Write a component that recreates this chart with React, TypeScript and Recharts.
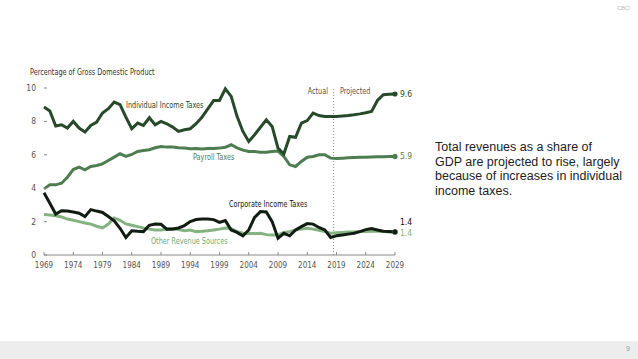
import React from 'react'
import { LineChart, Line, XAxis, YAxis, ReferenceLine, LabelList } from 'recharts'

const years = Array.from({ length: 61 }, (_, i) => 1969 + i)

const individual = [
  8.86, 8.62, 7.72, 7.8, 7.6, 8.0, 7.6, 7.36, 7.76, 7.96,
  8.5, 8.76, 9.16, 9.0, 8.26, 7.56, 7.9, 7.76, 8.22, 7.8,
  8.0, 7.86, 7.66, 7.4, 7.5, 7.56, 7.86, 8.25, 8.75, 9.25,
  9.25, 9.95, 9.5, 8.3, 7.4, 6.8, 7.2, 7.65, 8.1, 7.7,
  6.4, 6.05, 7.1, 7.05, 7.9, 8.05, 8.5, 8.35, 8.3, 8.3,
  8.3, 8.33, 8.36, 8.4, 8.45, 8.52, 8.6, 9.25, 9.6, 9.62,
  9.64,
]

const payroll = [
  3.96, 4.2, 4.2, 4.3, 4.66, 5.12, 5.26, 5.1, 5.3, 5.36,
  5.46, 5.66, 5.86, 6.06, 5.9, 6.02, 6.2, 6.26, 6.3, 6.42,
  6.5, 6.46, 6.46, 6.42, 6.4, 6.36, 6.38, 6.35, 6.38, 6.38,
  6.4, 6.45, 6.6, 6.42, 6.28, 6.2, 6.2, 6.15, 6.15, 6.2,
  6.22, 5.9, 5.4, 5.3, 5.6, 5.85, 5.9, 6.0, 6.0, 5.8,
  5.78, 5.8, 5.82, 5.84, 5.85, 5.86, 5.87, 5.88, 5.89, 5.9,
  5.9,
]

const corporate = [
  3.73, 3.1, 2.45, 2.65, 2.63, 2.58, 2.5, 2.3, 2.72, 2.63,
  2.55, 2.3, 2.05, 1.6, 1.05, 1.45, 1.42, 1.4, 1.78, 1.86,
  1.84, 1.55, 1.56, 1.62, 1.76, 2.0, 2.12, 2.16, 2.16, 2.12,
  1.95, 2.06, 1.5, 1.35, 1.15, 1.5, 2.25, 2.6, 2.58, 2.0,
  1.0, 1.3, 1.15, 1.5, 1.7, 1.88, 1.85, 1.65, 1.5, 1.05,
  1.15, 1.2, 1.25, 1.3, 1.4, 1.52, 1.58, 1.5, 1.42, 1.4,
  1.38,
]

const other = [
  2.42, 2.4, 2.35, 2.28, 2.15, 2.08, 2.0, 1.92, 1.85, 1.72,
  1.62, 1.85, 2.22, 2.08, 1.86, 1.78, 1.7, 1.62, 1.55, 1.5,
  1.5, 1.54, 1.55, 1.52, 1.45, 1.5, 1.4, 1.42, 1.45, 1.5,
  1.55, 1.62, 1.58, 1.4, 1.3, 1.28, 1.28, 1.3, 1.22, 1.2,
  1.2, 1.35, 1.4, 1.5, 1.55, 1.6, 1.55, 1.48, 1.4, 1.3,
  1.33, 1.35, 1.37, 1.38, 1.4, 1.4, 1.42, 1.42, 1.4, 1.38,
  1.38,
]

const xTicks = [1969, 1974, 1979, 1984, 1989, 1994, 1999, 2004, 2009, 2014, 2019, 2024, 2029]
const yTicks = [0, 2, 4, 6, 8, 10]

const data = years.map((year, i) => ({
  year,
  individual: individual[i],
  payroll: payroll[i],
  corporate: corporate[i],
  other: other[i],
}))

const last = data.length - 1
const narrow = '"Liberation Sans Narrow", "DejaVu Sans Condensed", sans-serif'

const C_IND = '#274a2a'
const C_PAY = '#4f7d52'
const C_CORP = '#111c12'
const C_OTH = '#84b281'

const endDot = (color: string) => (p: any) =>
  p.index === last
    ? <circle key={p.index} cx={p.cx} cy={p.cy} r={2.6} fill={color} />
    : <g key={p.index} />

const endLabel = (color: string, dy: number) => (p: any) =>
  p.index === last ? (
    <text x={p.x + 5} y={p.y + dy} fill={color} fontSize={8.5} fontFamily={narrow} dominantBaseline="central">
      {Number(p.value).toFixed(1)}
    </text>
  ) : null

const XTick = (p: any) => (
  <g>
    <line x1={p.x} x2={p.x} y1={p.y} y2={p.y - 3} stroke="#8a8a8a" />
    <text x={p.x} y={p.y + 10} textAnchor="middle" dominantBaseline="central" fill="#555" fontSize={8} fontFamily={narrow}>
      {p.payload.value}
    </text>
  </g>
)

const YTick = (p: any) => (
  <g>
    <line x1={p.x} x2={p.x + 3} y1={p.y} y2={p.y} stroke="#8a8a8a" />
    <text x={p.x - 8} y={p.y} textAnchor="end" dominantBaseline="central" fill="#555" fontSize={8.5} fontFamily={narrow}>
      {p.payload.value}
    </text>
  </g>
)

// the installed condensed face is still wider than the original, so squeeze it a bit
const note = (text: string, left: number, top: number, color: string, origin = 'left') => (
  <div style={{
    position: 'absolute', left, top, fontFamily: narrow, fontSize: 8.5, color, whiteSpace: 'nowrap',
    lineHeight: '10px', transform: 'scaleX(0.85)', transformOrigin: origin,
  }}>
    {text}
  </div>
)

export default function App() {
  return (
    <div style={{ position: 'fixed', left: 0, top: 0, width: 638, height: 359, background: '#fff', overflow: 'hidden' }}>
      <div style={{ position: 'absolute', right: 8, top: 5, fontFamily: 'Liberation Sans, sans-serif', fontSize: 6, color: '#bbb' }}>CBO</div>

      <LineChart width={638} height={359} data={data} margin={{ top: 88, right: 243, bottom: 84, left: 0 }}>
        <XAxis
          dataKey="year"
          type="number"
          domain={[1969, 2029]}
          ticks={xTicks}
          height={20}
          tickSize={0}
          tickMargin={0}
          tick={XTick}
          tickLine={false}
          axisLine={{ stroke: '#8a8a8a' }}
          interval={0}
        />
        <YAxis
          domain={[0, 10]}
          ticks={yTicks}
          width={44}
          tickSize={0}
          tickMargin={0}
          tick={YTick}
          tickLine={false}
          axisLine={false}
          interval={0}
        />
        <ReferenceLine x={2018.5} stroke="#8a8a8a" strokeDasharray="1 2" />
        <Line type="linear" dataKey="other" stroke={C_OTH} strokeWidth={3} dot={endDot(C_OTH)} isAnimationActive={false}>
          <LabelList dataKey="other" content={endLabel(C_OTH, 1)} />
        </Line>
        <Line type="linear" dataKey="payroll" stroke={C_PAY} strokeWidth={3} dot={endDot(C_PAY)} isAnimationActive={false}>
          <LabelList dataKey="payroll" content={endLabel(C_PAY, 0)} />
        </Line>
        <Line type="linear" dataKey="corporate" stroke={C_CORP} strokeWidth={3} dot={endDot(C_CORP)} isAnimationActive={false}>
          <LabelList dataKey="corporate" content={endLabel('#111', -10)} />
        </Line>
        <Line type="linear" dataKey="individual" stroke={C_IND} strokeWidth={3} dot={endDot(C_IND)} isAnimationActive={false}>
          <LabelList dataKey="individual" content={endLabel(C_IND, 0)} />
        </Line>
      </LineChart>

      {note('Percentage of Gross Domestic Product', 30, 67, '#333')}
      {note('Individual Income Taxes', 126, 100, C_IND)}
      {note('Payroll Taxes', 193, 152, C_PAY)}
      {note('Corporate Income Taxes', 229, 199, '#111')}
      {note('Other Revenue Sources', 151, 236, '#76a873')}
      <div style={{ position: 'absolute', left: 278, top: 86, width: 50, textAlign: 'right' }}>
        <div style={{ fontFamily: narrow, fontSize: 8.5, color: '#555', lineHeight: '10px', transform: 'scaleX(0.85)', transformOrigin: 'right' }}>Actual</div>
      </div>
      {note('Projected', 340, 86, '#555')}

      <div style={{ position: 'absolute', left: 435, top: 140, fontFamily: '"Liberation Sans", Arial, sans-serif', fontSize: 12.5, lineHeight: '14.5px', color: '#222' }}>
        Total revenues as a share of<br />
        GDP are projected to rise, largely<br />
        because of increases in individual<br />
        income taxes.
      </div>

      <div style={{ position: 'absolute', left: 0, top: 341, width: 638, height: 18, background: '#ededed' }} />
      <div style={{ position: 'absolute', right: 8, top: 345, fontFamily: 'Liberation Sans, sans-serif', fontSize: 7, color: '#999' }}>9</div>
    </div>
  )
}
